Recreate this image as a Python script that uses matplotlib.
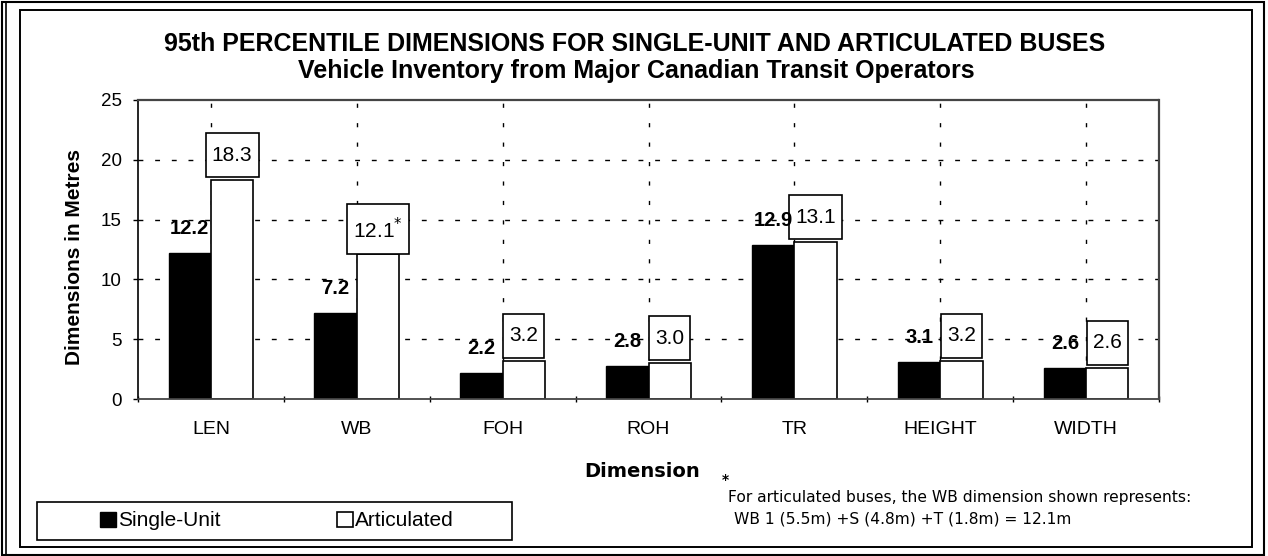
import matplotlib
matplotlib.use("Agg")
import matplotlib.pyplot as plt
from matplotlib import font_manager
from matplotlib.path import Path
from matplotlib.patches import Rectangle
from matplotlib.lines import Line2D
from matplotlib.ticker import FixedLocator
import numpy as np

# ---- data -------------------------------------------------------------
categories = ["LEN", "WB", "FOH", "ROH", "TR", "HEIGHT", "WIDTH"]
single_unit = [12.2, 7.2, 2.2, 2.8, 12.9, 3.1, 2.6]
articulated = [18.3, 12.1, 3.2, 3.0, 13.1, 3.2, 2.6]
footnoted = ["WB"]            # articulated value explained in the note
y_ticks = [0, 5, 10, 15, 20, 25]
series_names = ["Single-Unit", "Articulated"]

title_1 = "95th PERCENTILE DIMENSIONS FOR SINGLE-UNIT AND ARTICULATED BUSES"
title_2 = "Vehicle Inventory from Major Canadian Transit Operators"
x_title = "Dimension"
y_title = "Dimensions in Metres"
note_1 = "For articulated buses, the WB dimension shown represents:"
note_2 = "WB 1 (5.5m) +S (4.8m) +T (1.8m) = 12.1m"

# ---- fonts ------------------------------------------------------------
def has_font(name):
    try:
        font_manager.findfont(font_manager.FontProperties(family=name),
                              fallback_to_default=False)
        return True
    except Exception:
        return False

SANS = "Liberation Sans" if has_font("Liberation Sans") else "DejaVu Sans"
NARROW = "Liberation Sans Narrow" if has_font("Liberation Sans Narrow") else SANS
NARROW_SIZE = 15.5 if NARROW != SANS else 14

# ---- figure geometry (pixel helpers) ---------------------------------
W, H, DPI = 1268, 556, 100
fig = plt.figure(figsize=(W / DPI, H / DPI), dpi=DPI, facecolor="white")

def fx(px):
    return px / W

def fy(py):
    return 1 - py / H

ax_l, ax_r, ax_t, ax_b = 138, 1159, 100, 399
ax = fig.add_axes([fx(ax_l), fy(ax_b), (ax_r - ax_l) / W, (ax_b - ax_t) / H])

# ---- bars -------------------------------------------------------------
x = np.arange(len(categories)) + 0.5
bw = 0.29
bars_su = ax.bar(x - bw / 2, single_unit, bw, color="black",
                 edgecolor="black", linewidth=1.0, zorder=2)
bars_ar = ax.bar(x + bw / 2, articulated, bw, color="white",
                 edgecolor="black", linewidth=1.2, zorder=2)

ax.set_xlim(0, len(categories))
ax.set_ylim(y_ticks[0], y_ticks[-1])


# label box: wider vertical margin than horizontal margin
def label_box(x0, y0, width, height, mutation_size):
    px = 0.30 * mutation_size
    py = 0.60 * mutation_size
    verts = [(x0 - px, y0 - py), (x0 + width + px, y0 - py),
             (x0 + width + px, y0 + height + py), (x0 - px, y0 + height + py),
             (x0 - px, y0 - py)]
    return Path(verts, closed=True)


for xi, v in zip(x, single_unit):
    ax.annotate(f"{v:.1f}", (xi - bw / 2, v), xytext=(0, 17.5),
                textcoords="offset points", ha="center", va="center",
                fontsize=14.5, fontweight="bold", family=SANS, zorder=5)

for cat, xi, v in zip(categories, x, articulated):
    txt = f"{v:.1f}" + (r"$^{*}$" if cat in footnoted else "")
    ax.annotate(txt, (xi + bw / 2, v), xytext=(0, 18),
                textcoords="offset points", ha="center", va="center",
                fontsize=15, family=SANS, zorder=4,
                bbox=dict(boxstyle=label_box, fc="white", ec="black", lw=1.2))

# ---- axes styling -----------------------------------------------------
ax.set_yticks(y_ticks)
ax.tick_params(axis="y", direction="out", length=3.6, width=1.0, pad=8,
               labelsize=13.5, colors="black")
for lab in ax.get_yticklabels():
    lab.set_family(SANS)

ax.set_xticks(x)
ax.set_xticklabels(categories, family=NARROW, fontsize=NARROW_SIZE)
ax.tick_params(axis="x", which="major", length=0, pad=16)
ax.xaxis.set_minor_locator(FixedLocator(np.arange(0, len(categories) + 1)))
ax.tick_params(axis="x", which="minor", direction="inout", length=5,
               width=1.0, color="black")

ax.set_axisbelow(True)
ax.grid(axis="y", which="major", color="black", lw=1.0,
        linestyle=(0, (3.5, 8.5)))
ax.grid(axis="x", which="both", color="black", lw=1.0,
        linestyle=(0, (3, 11)))
# gridlines that sit on the plot-area edges are hidden
for t in ax.yaxis.get_major_ticks():
    if t.get_loc() in (y_ticks[0], y_ticks[-1]):
        t.gridline.set_visible(False)
for t in ax.xaxis.get_minor_ticks():
    if t.get_loc() in (0, len(categories)):
        t.gridline.set_visible(False)

ax.spines["left"].set(color="black", linewidth=1.2)
ax.spines["bottom"].set(color="#444444", linewidth=1.3, linestyle=(0, (1, 1)))
for s in ("top", "right"):
    ax.spines[s].set(color="#444444", linewidth=1.6, linestyle=(0, (1, 1)))

# ---- titles and axis names --------------------------------------------
fig.text(fx(635), fy(51), title_1, ha="center", va="baseline",
         fontsize=18, fontweight="bold", family=SANS)
fig.text(fx(636), fy(78), title_2, ha="center", va="baseline",
         fontsize=18, fontweight="bold", family=SANS)
fig.text(fx(75), fy(257), y_title, rotation=90, ha="center", va="center",
         fontsize=15, fontweight="bold", family=SANS)
fig.text(fx(642), fy(477), x_title, ha="center", va="baseline",
         fontsize=14, fontweight="bold", family="DejaVu Sans")

# ---- footnote ---------------------------------------------------------
fig.text(fx(725), fy(484), "*", ha="center", va="baseline", fontsize=10,
         fontweight="bold", family="DejaVu Sans")
fig.text(fx(728), fy(502), note_1, ha="left", va="baseline",
         fontsize=11.2, family="DejaVu Sans")
fig.text(fx(734), fy(524), note_2, ha="left", va="baseline",
         fontsize=11.2, family="DejaVu Sans")

# ---- legend -----------------------------------------------------------
fig.legend([bars_su, bars_ar], series_names, loc="center",
           bbox_to_anchor=(fx(277), fy(521)), ncol=2, frameon=False,
           prop=dict(family=SANS, size=15), handlelength=0.75,
           handleheight=0.75, handletextpad=0.12, columnspacing=5.6)
fig.add_artist(Rectangle((fx(37), fy(540)), (512 - 37) / W, (540 - 502) / H,
                         transform=fig.transFigure, fill=False,
                         ec="black", lw=1.2))

# ---- chart frames -----------------------------------------------------
fig.add_artist(Rectangle((fx(20), fy(547)), (1252 - 20) / W, (547 - 10) / H,
                         transform=fig.transFigure, fill=False,
                         ec="black", lw=1.4))
fig.add_artist(Rectangle((fx(2), fy(555)), (1264 - 2) / W, (555 - 2) / H,
                         transform=fig.transFigure, fill=False,
                         ec="black", lw=1.5))
fig.add_artist(Line2D([fx(6), fx(6)], [fy(2), fy(555)],
                      transform=fig.transFigure, color="black", lw=1.2))

fig.savefig("out.png", dpi=DPI, facecolor="white")
